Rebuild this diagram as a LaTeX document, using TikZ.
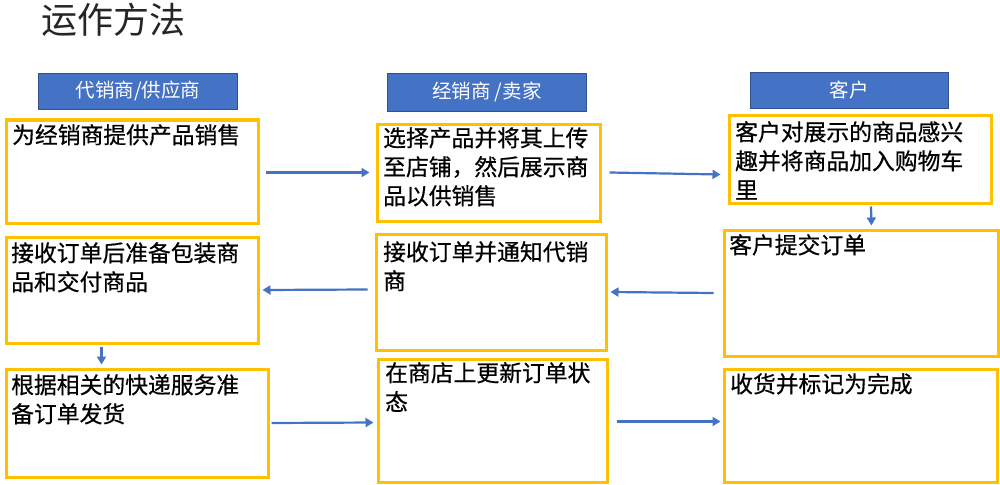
\documentclass[tikz,border=0pt]{standalone}
\usepackage{fontspec}
\setmainfont{Noto Sans CJK SC}
\newfontfamily\cjk{Noto Sans CJK SC}
\newfontfamily\cjkb[FakeBold=0.6]{Noto Sans CJK SC}
\usetikzlibrary{arrows.meta}
\definecolor{hblue}{HTML}{4472C4}
\definecolor{hborder}{HTML}{2F528F}
\definecolor{boxyellow}{HTML}{FFC000}
\begin{document}
\begin{tikzpicture}[x=1pt,y=-1pt,
  header/.style={draw=hborder,line width=0.8pt,fill=hblue,text=white,anchor=north west,inner sep=0pt,
    font=\cjk\fontsize{19.5}{22}\selectfont},
  stepbox/.style={draw=boxyellow,line width=3pt,anchor=north west,inner sep=0pt},
  boxtext/.style={anchor=north west,inner sep=0pt,align=left,
    font=\cjkb\fontsize{22.8}{29}\selectfont},
  arr/.style={draw=hblue,line width=2.2pt,-{Triangle[length=8pt,width=9pt]}}
]
\useasboundingbox (0,0) rectangle (1000,484);

\node[anchor=north west,inner sep=0pt,font=\cjk\fontsize{36}{40}\selectfont,text=black!85] (title) at (41,3) {运作方法};

% headers
\node[header,minimum width=199pt,minimum height=36pt] (h1) at (38,73) {代销商/供应商};
\node[header,minimum width=199pt,minimum height=38pt] (h2) at (387,73) {经销商 /卖家};
\node[header,minimum width=198pt,minimum height=36pt] (h3) at (750,72) {客户};

% boxes
\node[stepbox,minimum width=252pt,minimum height=103pt] (a1) at (4.5,118.5) {};
\node[stepbox,minimum width=252pt,minimum height=106pt] (a2) at (4.5,235.5) {};
\node[stepbox,minimum width=262pt,minimum height=108pt] (a3) at (4.5,367.5) {};
\node[stepbox,minimum width=223pt,minimum height=97pt] (b1) at (375.5,122.5) {};
\node[stepbox,minimum width=230pt,minimum height=116pt] (b2) at (374.5,232.5) {};
\node[stepbox,minimum width=229pt,minimum height=123pt] (b3) at (376.5,357.5) {};
\node[stepbox,minimum width=262pt,minimum height=87pt] (c1) at (727.5,114.5) {};
\node[stepbox,minimum width=274pt,minimum height=126pt] (c2) at (722.5,228.5) {};
\node[stepbox,minimum width=273pt,minimum height=113pt] (c3) at (722.5,367.5) {};

% texts
\node[boxtext] (ta1) at (12,124) {为经销商提供产品销售};
\node[boxtext] (ta2) at (11,242) {接收订单后准备包装商\\品和交付商品};
\node[boxtext] (ta3) at (11,374) {根据相关的快递服务准\\备订单发货};
\node[boxtext] (tb1) at (383,127) {选择产品并将其上传\\至店铺，然后展示商\\品以供销售};
\node[boxtext] (tb2) at (383,241) {接收订单并通知代销\\商};
\node[boxtext] (tb3) at (385,362) {在商店上更新订单状\\态};
\node[boxtext] (tc1) at (735,121) {客户对展示的商品感兴\\趣并将商品加入购物车\\里};
\node[boxtext] (tc2) at (729,234) {客户提交订单};
\node[boxtext] (tc3) at (730,373) {收货并标记为完成};

% connectors
\draw[arr] ([shift={(6,1)}]a1.east) -- ([shift={(-6,0)}]b1.west);
\draw[arr] ([shift={(8,0)}]b1.east) -- ([shift={(-7,15)}]c1.west);
\draw[arr] ([shift={(11,2)}]c1.south) -- ([shift={(10.5,-3)}]c2.north);
\draw[arr] ([shift={(-9,0)}]c2.west) -- ([shift={(3,0)}]b2.east);
\draw[arr] ([shift={(-7,-2.5)}]b2.west) -- ([shift={(3,0)}]a2.east);
\draw[arr] ([shift={(-30.5,2)}]a2.south) -- ([shift={(-35.5,-3)}]a3.north);
\draw[arr] ([shift={(2,0)}]a3.east) -- ([shift={(-3,2)}]b3.west);
\draw[arr] ([shift={(8,1)}]b3.east) -- ([shift={(-2,-4)}]c3.west);
\end{tikzpicture}
\end{document}
